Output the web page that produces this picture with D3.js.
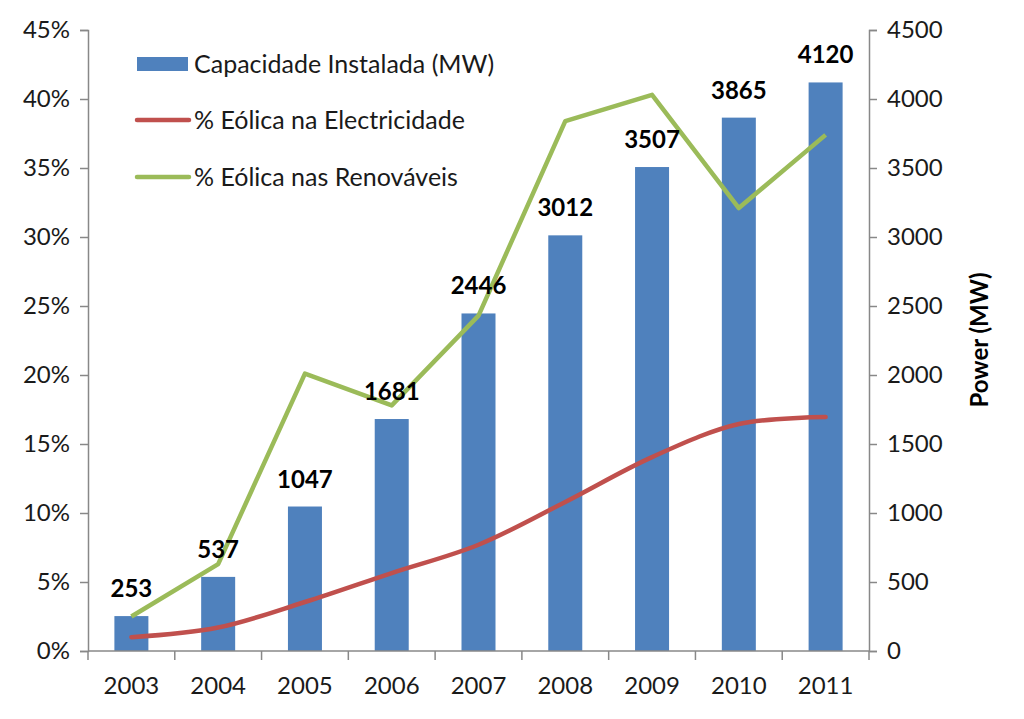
<!DOCTYPE html>
<html><head><meta charset="utf-8">
<script src="https://cdn.jsdelivr.net/npm/d3@7"></script>
<style>body{margin:0;background:#fff}svg{display:block}text{font-family:Lato,"Open Sans",sans-serif}</style>
</head><body>
<svg id="c" width="1024" height="719"></svg>
<script>
const years = ["2003","2004","2005","2006","2007","2008","2009","2010","2011"];
const capacity = [253,537,1047,1681,2446,3012,3507,3865,4120];
const pctElectricity = [1.0,1.7,3.55,5.65,7.7,10.8,14.05,16.45,16.95];
const pctRenewables = [2.5,6.3,20.1,17.8,24.3,38.4,40.3,32.1,37.4];
const leftTicks = [0,5,10,15,20,25,30,35,40,45];
const rightTicks = [0,500,1000,1500,2000,2500,3000,3500,4000,4500];
const legendLabels = ["Capacidade Instalada (MW)","% Eólica na Electricidade","% Eólica nas Renováveis"];

const svg = d3.select("#c");
const L=88, R=869, T=30, B=651;
const x = d3.scaleBand().domain(years).range([L,R]);
const yL = d3.scaleLinear().domain([0,45]).range([B,T]);
const yR = d3.scaleLinear().domain([0,4500]).range([B,T]);
const axisCol="#888", textCol="#1a1a1a";

// bars
const bw = 34;
svg.append("g").selectAll("rect").data(capacity).join("rect")
  .attr("x",(d,i)=>x(years[i])+x.bandwidth()/2-bw/2)
  .attr("y",d=>yR(d)).attr("width",bw).attr("height",d=>B-yR(d))
  .attr("fill","#4F81BD");

// axes
const gl = svg.append("g").attr("transform",`translate(${L},0)`)
  .call(d3.axisLeft(yL).tickValues(leftTicks).tickFormat(d=>d+"%").tickSize(8).tickPadding(10));
const gr = svg.append("g").attr("transform",`translate(${R},0)`)
  .call(d3.axisRight(yR).tickValues(rightTicks).tickFormat(d=>String(d)).tickSize(8).tickPadding(10));
const gx = svg.append("g").attr("transform",`translate(0,${B})`)
  .call(d3.axisBottom(x).tickSize(0).tickPadding(26));
// category boundary ticks
svg.append("g").selectAll("line").data(d3.range(years.length+1)).join("line")
  .attr("x1",i=>L+i*x.step()).attr("x2",i=>L+i*x.step())
  .attr("y1",B).attr("y2",B+9).attr("stroke",axisCol).attr("stroke-width",1.5);
[gl,gr,gx].forEach(g=>{
  g.selectAll("path,line").attr("stroke",axisCol).attr("stroke-width",1.5);
  g.selectAll("text").attr("font-size",24).attr("fill",textCol);
});
gx.select(".domain").attr("d",`M${L},0H${R}`);

// lines
const xc = (i)=>x(years[i])+x.bandwidth()/2;
svg.append("path").datum(pctElectricity)
  .attr("d",d3.line().x((d,i)=>xc(i)).y(d=>yL(d)).curve(d3.curveCatmullRom.alpha(0.5)))
  .attr("fill","none").attr("stroke","#C0504D").attr("stroke-width",4.5).attr("stroke-linecap","round");
svg.append("path").datum(pctRenewables)
  .attr("d",d3.line().x((d,i)=>xc(i)).y(d=>yL(d)))
  .attr("fill","none").attr("stroke","#9BBB59").attr("stroke-width",4.5).attr("stroke-linejoin","round");

// data labels
svg.append("g").selectAll("text").data(capacity).join("text")
  .attr("x",(d,i)=>xc(i)).attr("y",d=>yR(d)-19)
  .attr("text-anchor","middle").attr("font-size",24).attr("font-weight","bold").attr("fill","#000")
  .text(d=>d);

// legend
const lg = svg.append("g");
lg.append("rect").attr("x",137).attr("y",57).attr("width",51).attr("height",14).attr("fill","#4F81BD");
lg.append("line").attr("x1",137).attr("x2",189).attr("y1",120).attr("y2",120).attr("stroke","#C0504D").attr("stroke-width",4.5).attr("stroke-linecap","round");
lg.append("line").attr("x1",137).attr("x2",189).attr("y1",177).attr("y2",177).attr("stroke","#9BBB59").attr("stroke-width",4.5).attr("stroke-linecap","round");
lg.selectAll("text").data(legendLabels).join("text")
  .attr("x",194).attr("y",(d,i)=>[64,120,177][i]).attr("dy","0.35em")
  .attr("font-size",25).attr("fill",textCol).text(d=>d);

// right axis title
svg.append("text").attr("transform","translate(980,340) rotate(-90)")
  .attr("text-anchor","middle").attr("dy","0.35em").attr("font-size",24).attr("font-weight","bold").attr("fill","#000")
  .text("Power (MW)");
</script>
</body></html>
